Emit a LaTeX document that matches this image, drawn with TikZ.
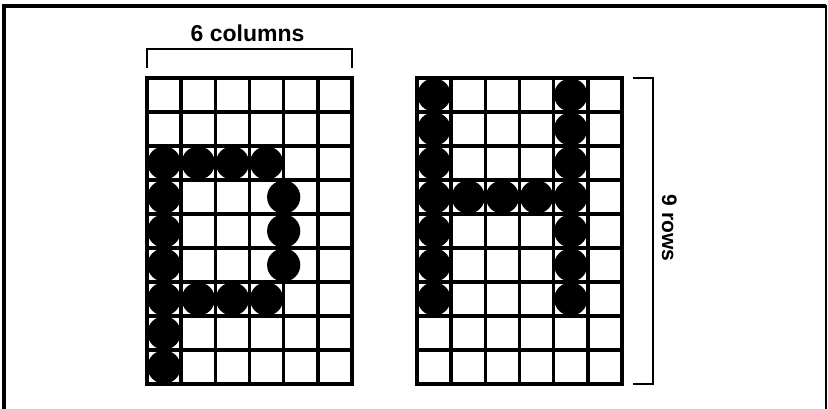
\documentclass[tikz,border=0pt]{standalone}
\usepackage{fontspec}
\setmainfont{Liberation Sans}
\begin{document}
\begin{tikzpicture}[x=1pt,y=-1pt,
  gridline/.style={line width=3.6pt,line cap=rect},
  bracketline/.style={line width=2pt},
  dotmark/.style={fill=black},
  labeltext/.style={font=\fontsize{23}{27}\selectfont\bfseries, inner sep=0pt}]
\useasboundingbox (0,0) rectangle (828,409);
% frame
\draw[line width=4.5pt] (4,409) -- (4,6) -- (826,6);
\draw[line width=2.2pt] (826,5) -- (826,409);
% grids
\def\pitchx{34.17}
\def\pitchy{34}
\foreach \gx in {147,417}{
  \foreach \i in {0,...,6}
    \draw[gridline] ({\gx+\i*\pitchx},78) -- ++(0,306);
  \foreach \j in {0,...,9}
    \draw[gridline] (\gx,{78+\j*\pitchy}) -- ++({6*\pitchx},0);
}
% dots left "p"
\foreach \c/\r in {0/2,1/2,2/2,3/2,0/3,3.5/3,0/4,3.5/4,0/5,3.5/5,0/6,1/6,2/6,3/6,0/7,0/8}
  \fill[dotmark] ({147+(\c+0.5)*\pitchx},{78+(\r+0.5)*\pitchy}) circle (16.6);
% dots right "H"
\foreach \c/\r in {0/0,4/0,0/1,4/1,0/2,4/2,0/3,1/3,2/3,3/3,4/3,0/4,4/4,0/5,4/5,0/6,4/6}
  \fill[dotmark] ({417+(\c+0.5)*\pitchx},{78+(\r+0.5)*\pitchy}) circle (16.6);
% brackets
\coordinate (tl) at (147,68);
\coordinate (tr) at (352,68);
\draw[bracketline] (tl) -- (147,49) -- (352,49) -- (tr);
\node[labeltext, anchor=base] (cols) at (247.5,42) {6 columns};
\coordinate (rt) at (633,78);
\coordinate (rb) at (633,384);
\draw[bracketline] (rt) -- (653,78) -- (653,384) -- (rb);
\node[labeltext, font=\fontsize{21}{25}\selectfont\bfseries, anchor=base, rotate=-90] (rows) at (662,228) {9 rows};
\end{tikzpicture}
\end{document}
